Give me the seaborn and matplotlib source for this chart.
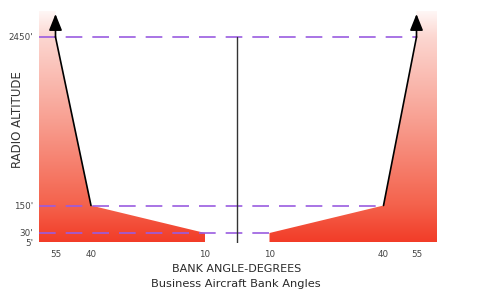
import numpy as np
import matplotlib
matplotlib.use("Agg")
import matplotlib.pyplot as plt
import seaborn as sns
import pandas as pd
from matplotlib.colors import LinearSegmentedColormap
from matplotlib.patches import Polygon

# ---------------- data ----------------
altitudes_ft = [5, 30, 150, 2450]
bank_limit_deg = [10, 10, 40, 55]
alt_tick_labels = ["5'", "30'", "150'", "2450'"]
bank_tick_values = [55, 40, 10]
reference_alts = [2450, 150, 30]
x_label = "BANK ANGLE-DEGREES"
caption = "Business Aircraft Bank Angles"
y_label = "RADIO ALTITUDE"

# ---------------- styling / layout ----------------
sns.set_theme(style="white")
plt.rcParams['font.family'] = ['DejaVu Sans']

W, H = 486, 301
fig = plt.figure(figsize=(W / 100, H / 100), dpi=100)
ax = fig.add_axes([39 / W, (H - 242.5) / H, (437 - 39) / W, (242.5 - 11) / H])

EDGE = 62      # axis extent in degrees each side
TOP = 2800     # top altitude of the plot area
TIP = 2760     # arrow tip altitude

# schematic (piecewise) scales
XA = np.array([-62, -55, -40, -10, 0, 10, 40, 55, 62], float)
XU = np.array([39, 55.5, 91, 205, 237, 269.5, 383.5, 416.5, 437], float)
YA = np.array([5, 30, 150, 2450, 2800], float)
YU = -np.array([242.5, 233, 205.5, 37, 11], float)

ax.set_xscale('function', functions=(lambda v: np.interp(v, XA, XU),
                                     lambda u: np.interp(u, XU, XA)))
ax.set_yscale('function', functions=(lambda v: np.interp(v, YA, YU),
                                     lambda u: np.interp(u, YU, YA)))

# gradient fill clipped to the two envelopes
cmap = LinearSegmentedColormap.from_list(
    'bank', [(0, '#f23c28'), (0.158, '#f4624c'), (0.53, '#f8a092'),
             (0.888, '#fcd7d1'), (1, '#fff8f7')])
grad = np.linspace(0, 1, 256).reshape(-1, 1)

for side in (-1, 1):
    px = [side * EDGE, side * bank_limit_deg[0]] + [side * b for b in bank_limit_deg] \
         + [side * bank_limit_deg[-1], side * EDGE]
    py = [altitudes_ft[0], altitudes_ft[0]] + altitudes_ft + [TOP, TOP]
    poly = Polygon(np.column_stack([px, py]), closed=True, transform=ax.transData,
                   facecolor='none', edgecolor='none')
    ax.add_patch(poly)
    im = ax.imshow(grad, cmap=cmap, origin='lower', extent=(0, 1, 0, 1),
                   transform=ax.transAxes, aspect='auto', interpolation='bilinear',
                   zorder=1)
    im.set_clip_path(poly)

# dashed reference lines
for alt in reference_alts:
    lim = bank_limit_deg[altitudes_ft.index(alt)]
    df = pd.DataFrame({'x': [-EDGE, lim], 'y': [alt, alt]})
    sns.lineplot(data=df, x='x', y='y', ax=ax, color='#9a5ce0', lw=1.2,
                 linestyle=(0, (10.0, 6.0)), sort=False, estimator=None, zorder=3)

# envelope lines (upper part) with arrows
for side in (-1, 1):
    df = pd.DataFrame({'x': [side * b for b in bank_limit_deg[2:]],
                       'y': altitudes_ft[2:]})
    sns.lineplot(data=df, x='x', y='y', ax=ax, color='black', lw=1.2,
                 sort=False, estimator=None, zorder=4)
    ax.annotate("", xy=(side * bank_limit_deg[-1], TIP),
                xytext=(side * bank_limit_deg[-1], altitudes_ft[-1]),
                arrowprops=dict(arrowstyle="-|>,head_length=1.0,head_width=0.4",
                                color='black', lw=1.2, mutation_scale=10,
                                shrinkA=0, shrinkB=0), zorder=5)

# center line
ax.plot([0, 0], [altitudes_ft[0], altitudes_ft[-1]], color='#333333', lw=1.0, zorder=4)

ax.set_xlim(-EDGE, EDGE)
ax.set_ylim(altitudes_ft[0], TOP)

xt = [-v for v in bank_tick_values] + [v for v in bank_tick_values[::-1]]
xl = [str(v) for v in bank_tick_values] + [str(v) for v in bank_tick_values[::-1]]
ax.set_xticks(xt, xl)
ax.set_yticks(altitudes_ft, alt_tick_labels)
ax.tick_params(axis='both', length=0, labelsize=6.3, labelcolor='#444444')
ax.tick_params(axis='x', pad=5.5)
ax.tick_params(axis='y', pad=4)
ax.set_xlabel("")
ax.set_ylabel(y_label, fontsize=8.5, color='#333333')
ax.yaxis.set_label_coords((24 - 39) / 398, (242.5 - 120) / 231.5)
for s in ax.spines.values():
    s.set_visible(False)
ax.grid(False)

fig.text(237 / W, 1 - 269 / H, x_label, ha='center', va='center',
         fontsize=8, color='#2a2a2a')
fig.text(236 / W, 1 - 284 / H, caption, ha='center', va='center',
         fontsize=8.2, color='#2a2a2a')

fig.savefig("out.png", dpi=100, facecolor='white')
